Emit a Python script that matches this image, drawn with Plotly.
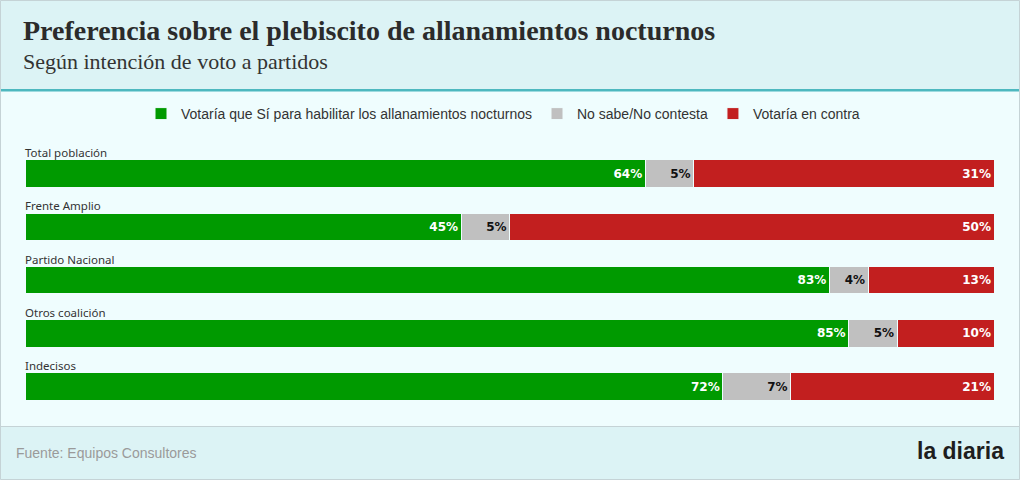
import plotly.graph_objects as go

categories = ["Total población", "Frente Amplio", "Partido Nacional", "Otros coalición", "Indecisos"]
si_values = [64, 45, 83, 85, 72]
ns_values = [5, 5, 4, 5, 7]
no_values = [31, 50, 13, 10, 21]
series_names = ["Votaría que Sí para habilitar los allanamientos nocturnos",
                "No sabe/No contesta", "Votaría en contra"]
colors = ["#009a00", "#c0c0c0", "#c21f1f"]
text_colors = ["#ffffff", "#111111", "#ffffff"]

W, H = 1020, 480
L, R, T, B = 25, 994, 147, 417  # plot area in pixels

def px(x):
    return (x - L) / (R - L)

def py(y):
    return (B - y) / (B - T)

BODY = "#effdfe"
HEAD = "#dcf3f5"

fig = go.Figure()
for name, vals, col, tcol in zip(series_names, [si_values, ns_values, no_values], colors, text_colors):
    fig.add_trace(go.Bar(
        y=categories, x=vals, name=name, orientation="h",
        marker=dict(color=col, line=dict(color=BODY, width=1)),
        text=[f"{v}%" for v in vals], textposition="inside",
        insidetextanchor="end", textangle=0,
        textfont=dict(family="DejaVu Sans", size=12, color=tcol, weight="bold"),
        hoverinfo="skip",
    ))

shapes = [
    dict(type="rect", xref="paper", yref="paper", x0=px(0), x1=px(W), y0=py(0), y1=py(89),
         fillcolor=HEAD, line=dict(width=0), layer="below"),
    dict(type="rect", xref="paper", yref="paper", x0=px(0), x1=px(W), y0=py(89), y1=py(91.5),
         fillcolor="#4db8bf", line=dict(width=0), layer="below"),
    dict(type="rect", xref="paper", yref="paper", x0=px(0), x1=px(W), y0=py(426), y1=py(H),
         fillcolor=HEAD, line=dict(width=0), layer="below"),
    dict(type="line", xref="paper", yref="paper", x0=px(0), x1=px(W), y0=py(426.5), y1=py(426.5),
         line=dict(color="#c5d3d6", width=1), layer="below"),
    dict(type="rect", xref="paper", yref="paper", x0=px(0.5), x1=px(W - 0.5), y0=py(0.5), y1=py(H - 0.5),
         line=dict(color="#c5d3d6", width=1), fillcolor="rgba(0,0,0,0)", layer="above"),
]

annotations = [
    dict(text="<b>Preferencia sobre el plebiscito de allanamientos nocturnos</b>",
         xref="paper", yref="paper", x=px(21), y=py(30), xanchor="left", yanchor="middle",
         showarrow=False, font=dict(family="Liberation Serif", size=28, color="#2b2b2b")),
    dict(text="Según intención de voto a partidos",
         xref="paper", yref="paper", x=px(21), y=py(61), xanchor="left", yanchor="middle",
         showarrow=False, font=dict(family="Liberation Serif", size=22, color="#333333")),
    dict(text="Fuente: Equipos Consultores",
         xref="paper", yref="paper", x=px(14), y=py(453), xanchor="left", yanchor="middle",
         showarrow=False, font=dict(family="Liberation Sans", size=14, color="#9a9a9a")),
    dict(text="<b>la diaria</b>",
         xref="paper", yref="paper", x=px(1006), y=py(451), xanchor="right", yanchor="middle",
         showarrow=False, font=dict(family="Liberation Sans", size=23, color="#1e1e1e")),
]
for c in categories:
    annotations.append(dict(text=c, xref="paper", yref="y", x=px(23), y=c, xanchor="left",
                            yanchor="middle", yshift=21, showarrow=False,
                            font=dict(family="Noto Sans", size=11.5, color="#333333")))

fig.update_layout(
    width=W, height=H,
    barmode="stack", bargap=1 - 28 / 54,
    margin=dict(l=L, r=W - R, t=T, b=H - B, pad=0),
    paper_bgcolor=BODY, plot_bgcolor=BODY,
    xaxis=dict(range=[0, 100], visible=False, fixedrange=True),
    yaxis=dict(categoryorder="array", categoryarray=categories, autorange="reversed",
               visible=False, fixedrange=True),
    legend=dict(orientation="h", x=px(503), xanchor="center", y=py(114), yanchor="middle",
                font=dict(family="Liberation Sans", size=14, color="#333333"),
                bgcolor="rgba(0,0,0,0)", traceorder="normal", itemwidth=30,
                itemclick=False, itemdoubleclick=False),
    shapes=shapes, annotations=annotations,
    showlegend=True,
)

fig.write_html("out.html", config={"displayModeBar": False},
               post_script="document.body.style.margin='0';document.body.style.padding='0';document.body.style.overflow='hidden';")
